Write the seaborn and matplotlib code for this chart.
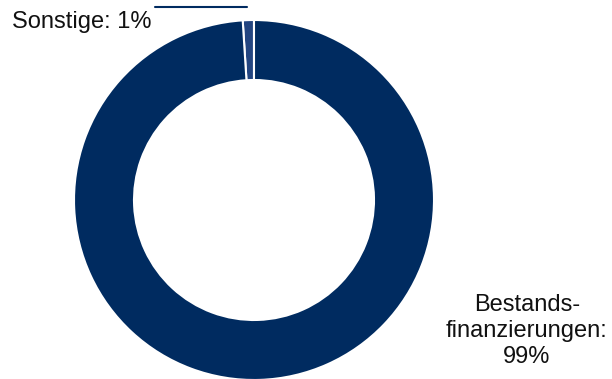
import matplotlib
matplotlib.use("Agg")
import matplotlib.pyplot as plt
import seaborn as sns
from matplotlib.lines import Line2D

categories = ["Sonstige", "Bestandsfinanzierungen"]
values = [1, 99]
labels = ["Sonstige: 1%", "Bestands-\nfinanzierungen:\n99%"]
colors = ["#234580", "#002B60"]

sns.set_theme(style="white")
plt.rcParams['font.family'] = ['Liberation Sans', 'DejaVu Sans']

W, H = 612, 379
fig = plt.figure(figsize=(W / 100, H / 100), dpi=100)
cx, cy, R = 254, 200, 180
ax = fig.add_axes([(cx - R) / W, (H - cy - R) / H, 2 * R / W, 2 * R / H])
ax.pie(values, colors=colors, startangle=90, counterclock=True, radius=1,
       wedgeprops=dict(width=1/3, edgecolor="white", linewidth=1.5))
ax.set_xlim(-1, 1)
ax.set_ylim(-1, 1)
ax.set_aspect("equal")
ax.axis("off")

# leader line for small slice
fig.add_artist(Line2D([155 / W, 247 / W], [(H - 7) / H, (H - 7) / H],
                      color="#002B60", linewidth=1.5, transform=fig.transFigure))
fig.text(12 / W, (H - 28) / H, labels[0], ha="left", va="baseline",
         fontsize=17, color="#111111")
fig.text(527 / W, (H - 331) / H, labels[1], ha="center", va="center",
         multialignment="center", fontsize=17, color="#111111", linespacing=1.22)

fig.savefig("out.png", dpi=100)
